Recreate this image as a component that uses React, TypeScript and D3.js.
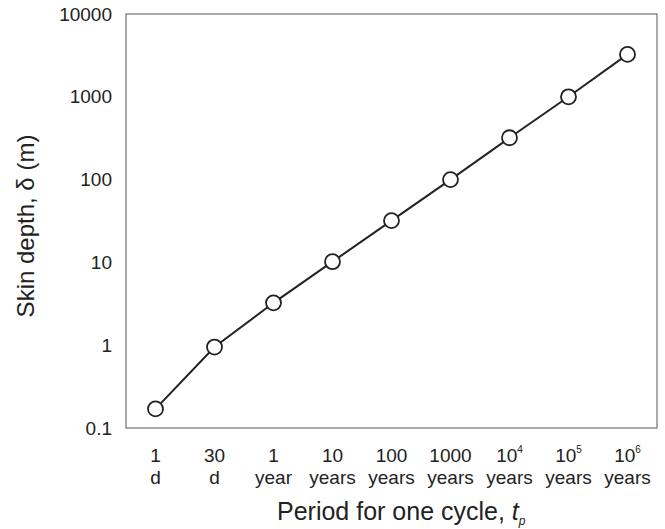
import React from "react";
import * as d3 from "d3";

const categoriesTop = ["1", "30", "1", "10", "100", "1000", "10", "10", "10"];
const categoriesSup = ["", "", "", "", "", "", "4", "5", "6"];
const categoriesBottom = ["d", "d", "year", "years", "years", "years", "years", "years", "years"];
const skinDepth = [0.17, 0.95, 3.25, 10.2, 32, 100, 320, 1000, 3250];
const yTicks = [0.1, 1, 10, 100, 1000, 10000];
const yTickLabels = ["0.1", "1", "10", "100", "1000", "10000"];

const W = 665, H = 529;
const M = { left: 126, top: 14, right: 8, bottom: 101 };

export default function App() {
  const innerW = W - M.left - M.right;
  const innerH = H - M.top - M.bottom;
  const idx = categoriesTop.map((_, i) => i);
  const x = d3.scalePoint<number>().domain(idx).range([M.left, M.left + innerW]).padding(0.5);
  const y = d3.scaleLog().domain([0.1, 10000]).range([M.top + innerH, M.top]);
  const line = d3.line<number>().x((_, i) => x(i)!).y((d) => y(d));
  const font = "'Liberation Sans', Arial, sans-serif";
  return (
    <svg width={W} height={H} style={{ position: "absolute", left: 0, top: 0 }} fontFamily={font}>
      <rect x={M.left} y={M.top} width={innerW} height={innerH} fill="none" stroke="#555" strokeWidth={1} />
      {yTicks.map((t, i) => (
        <text key={i} x={M.left - 14} y={y(t)} dy="0.35em" textAnchor="end" fontSize={19} fill="#222">
          {yTickLabels[i]}
        </text>
      ))}
      {idx.map((i) => (
        <g key={i}>
          <text x={x(i)} y={462} textAnchor="middle" fontSize={19} fill="#222">
            {categoriesTop[i]}
            {categoriesSup[i] && (
              <tspan fontSize={10} dy={-9}>{categoriesSup[i]}</tspan>
            )}
          </text>
          <text x={x(i)} y={484} textAnchor="middle" fontSize={19} fill="#222">
            {categoriesBottom[i]}
          </text>
        </g>
      ))}
      <path d={line(skinDepth)!} fill="none" stroke="#222" strokeWidth={2} />
      {skinDepth.map((v, i) => (
        <circle key={i} cx={x(i)} cy={y(v)} r={7.5} fill="#fff" stroke="#222" strokeWidth={1.8} />
      ))}
      <text x={277} y={520} textAnchor="start" fontSize={25} fill="#222">
        Period for one cycle, <tspan fontStyle="italic">t</tspan>
        <tspan fontStyle="italic" fontSize={12} dy={5}>p</tspan>
      </text>
      <text transform={`translate(34,226) rotate(-90)`} textAnchor="middle" fontSize={24} fill="#222">
        Skin depth, δ (m)
      </text>
    </svg>
  );
}
